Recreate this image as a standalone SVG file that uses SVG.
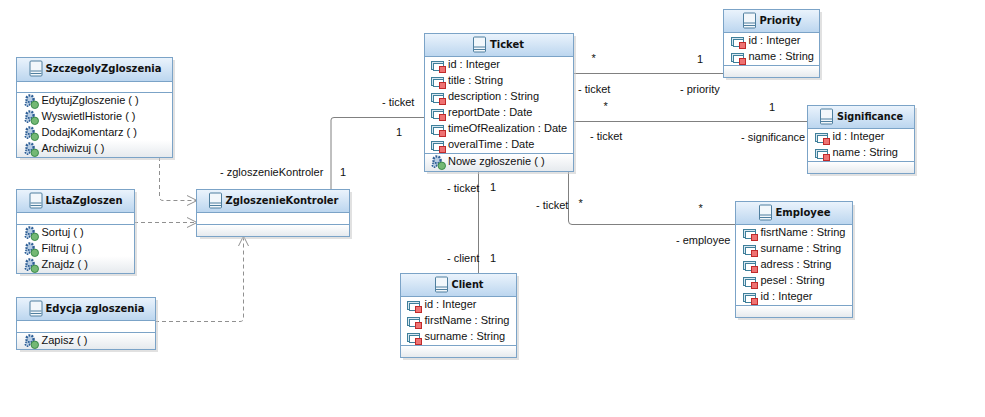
<svg xmlns="http://www.w3.org/2000/svg" width="985" height="417" viewBox="0 0 985 417">
<style>
text{font-family:"Liberation Sans",Arial,sans-serif;font-size:11px;fill:#111}
.t{font-family:"DejaVu Sans",sans-serif;font-weight:bold;font-size:10.5px}
.b{fill:#fff;stroke:#7ba3c7;stroke-width:1}
.s{fill:#c8c8c8;opacity:.55}
.d{stroke:#7ba3c7;stroke-width:1;fill:none}
.h{fill:url(#hg)}
.f{fill:url(#fg)}
.c{fill:none;stroke:#808080;stroke-width:1}
.k{fill:none;stroke:#909090;stroke-width:1;stroke-dasharray:4 3}
</style>
<defs>
<linearGradient id="hg" x1="0" y1="0" x2="0" y2="1"><stop offset="0" stop-color="#eaf3fc"/><stop offset="1" stop-color="#bcd6ef"/></linearGradient>
<linearGradient id="fg" x1="0" y1="0" x2="0" y2="1"><stop offset="0" stop-color="#fff"/><stop offset="1" stop-color="#e6eaee"/></linearGradient>
<marker id="o" markerWidth="12" markerHeight="12" refX="10" refY="6" orient="auto" markerUnits="userSpaceOnUse"><path d="M0 1L10 6L0 11" fill="none" stroke="#909090"/></marker>
<g id="ci"><rect x="0.500" y="0.500" width="12" height="15" rx="1" fill="#f2f7fb" stroke="#4f7f9f"/><path d="M1 10.500H12M1 13H12" stroke="#4f7f9f"/></g>
<g id="ai"><rect x="0.500" y="1.500" width="12" height="8" fill="#d8e8f2" stroke="#3f7f9a"/><rect x="2.500" y="3.500" width="10" height="7" fill="#fff" stroke="#3f7f9a"/><rect x="8.500" y="6.500" width="6" height="6" fill="#ee7272" stroke="#c02a2a"/></g>
<g id="oi"><circle cx="6" cy="5" r="3.600" fill="#b8cde3" stroke="#2f5f96" stroke-width="2.400" stroke-dasharray="1.800 1.200"/><circle cx="3.500" cy="10" r="2.200" fill="#b8cde3" stroke="#2f5f96" stroke-width="1.600" stroke-dasharray="1.400 1"/><circle cx="10.800" cy="10.800" r="3.700" fill="#74b874" stroke="#3a8a4a"/></g>
</defs>
<rect width="985" height="417" fill="#fff"/>
<g id="connectors">
<path class="c" d="M331 189V120Q331 117.500 334 117.500H424"/>
<path class="c" d="M573 73.500H723"/>
<path class="c" d="M573 121.500H807"/>
<path class="c" d="M478.500 171V273"/>
<path class="c" d="M568.500 171V221Q568.500 224.500 572 224.500H735"/>
<path class="k" d="M159.500 157V197Q159.500 200.500 163 200.500H197" marker-end="url(#o)"/>
<path class="k" d="M134 222.500H197" marker-end="url(#o)"/>
<path class="k" d="M155 321.500H240Q243.500 321.500 243.500 318V236" marker-end="url(#o)"/>
</g>
<g id="SzczegolyZgloszenia">
<rect class="s" x="20" y="60" width="155" height="100"/><rect class="b" x="16.500" y="57.500" width="156" height="100"/><rect class="h" x="17" y="58" width="155" height="23"/><rect class="f" x="17" y="140" width="155" height="17"/><path class="d" d="M17 81.500H172M17 92.500H172"/><rect class="d" x="16.500" y="57.500" width="156" height="100"/>
<use href="#ci" x="29.500" y="60.500"/><text class="t" x="45.500" y="72" textLength="116" lengthAdjust="spacingAndGlyphs">SzczegolyZgloszenia</text>
<use href="#oi" x="24" y="94"/><text x="41.500" y="104">EdytujZgloszenie ( )</text>
<use href="#oi" x="24" y="110"/><text x="41.500" y="120">WyswietlHistorie ( )</text>
<use href="#oi" x="24" y="126"/><text x="41.500" y="136">DodajKomentarz ( )</text>
<use href="#oi" x="24" y="142"/><text x="41.500" y="152">Archiwizuj ( )</text>
</g>
<g id="ListaZgloszen">
<rect class="s" x="20" y="192" width="117" height="84"/><rect class="b" x="16.500" y="189.500" width="118" height="84"/><rect class="h" x="17" y="190" width="117" height="22"/><rect class="f" x="17" y="256" width="117" height="17"/><path class="d" d="M17 212.500H134M17 224.500H134"/><rect class="d" x="16.500" y="189.500" width="118" height="84"/>
<use href="#ci" x="29.500" y="192.500"/><text class="t" x="45.500" y="204" textLength="77" lengthAdjust="spacingAndGlyphs">ListaZgloszen</text>
<use href="#oi" x="24" y="226"/><text x="41.500" y="236">Sortuj ( )</text>
<use href="#oi" x="24" y="242"/><text x="41.500" y="252">Filtruj ( )</text>
<use href="#oi" x="24" y="258"/><text x="41.500" y="268">Znajdz ( )</text>
</g>
<g id="EdycjaZgloszenia">
<rect class="s" x="20" y="300" width="138" height="52"/><rect class="b" x="16.500" y="297.500" width="139" height="52"/><rect class="h" x="17" y="298" width="138" height="22"/><rect class="f" x="17" y="333" width="138" height="16"/><path class="d" d="M17 320.500H155M17 332.500H155"/><rect class="d" x="16.500" y="297.500" width="139" height="52"/>
<use href="#ci" x="29.500" y="300.500"/><text class="t" x="45.500" y="312" textLength="99" lengthAdjust="spacingAndGlyphs">Edycja zgloszenia</text>
<use href="#oi" x="24" y="334"/><text x="41.500" y="344">Zapisz ( )</text>
</g>
<g id="ZgloszenieKontroler">
<rect class="s" x="200" y="192" width="152" height="47"/><rect class="b" x="196.500" y="189.500" width="153" height="47"/><rect class="h" x="197" y="190" width="152" height="22"/><rect class="f" x="197" y="225" width="152" height="11"/><path class="d" d="M197 212.500H349M197 224.500H349"/><rect class="d" x="196.500" y="189.500" width="153" height="47"/>
<use href="#ci" x="209" y="192.500"/><text class="t" x="225.500" y="204" textLength="113" lengthAdjust="spacingAndGlyphs">ZgloszenieKontroler</text>
</g>
<g id="Ticket">
<rect class="s" x="427" y="36" width="149" height="138"/><rect class="b" x="424.500" y="33.500" width="149" height="138"/><rect class="h" x="425" y="34" width="148" height="22"/><rect class="f" x="425" y="154" width="148" height="17"/><path class="d" d="M425 56.500H573M425 153.500H573"/><rect class="d" x="424.500" y="33.500" width="149" height="138"/>
<use href="#ci" x="473" y="36.500"/><text class="t" x="490" y="48" textLength="34" lengthAdjust="spacingAndGlyphs">Ticket</text>
<use href="#ai" x="431" y="60"/><text x="448" y="68">id : Integer</text>
<use href="#ai" x="431" y="76"/><text x="448" y="84">title : String</text>
<use href="#ai" x="431" y="92"/><text x="448" y="100">description : String</text>
<use href="#ai" x="431" y="108"/><text x="448" y="116">reportDate : Date</text>
<use href="#ai" x="431" y="124"/><text x="448" y="132">timeOfRealization : Date</text>
<use href="#ai" x="431" y="140"/><text x="448" y="148">overalTime : Date</text>
<use href="#oi" x="431" y="155"/><text x="448" y="165">Nowe zgłoszenie ( )</text>
</g>
<g id="Priority">
<rect class="s" x="726" y="12" width="96" height="68"/><rect class="b" x="723.500" y="9.500" width="96" height="68"/><rect class="h" x="724" y="10" width="95" height="22"/><rect class="f" x="724" y="66" width="95" height="11"/><path class="d" d="M724 32.500H819M724 65.500H819"/><rect class="d" x="723.500" y="9.500" width="96" height="68"/>
<use href="#ci" x="743" y="12.500"/><text class="t" x="759.500" y="24" textLength="42" lengthAdjust="spacingAndGlyphs">Priority</text>
<use href="#ai" x="731" y="36"/><text x="748.500" y="44">id : Integer</text>
<use href="#ai" x="731" y="52"/><text x="748.500" y="60">name : String</text>
</g>
<g id="Significance">
<rect class="s" x="810" y="108" width="107" height="68"/><rect class="b" x="807.500" y="105.500" width="107" height="68"/><rect class="h" x="808" y="106" width="106" height="22"/><rect class="f" x="808" y="162" width="106" height="11"/><path class="d" d="M808 128.500H914M808 161.500H914"/><rect class="d" x="807.500" y="105.500" width="107" height="68"/>
<use href="#ci" x="820" y="108.500"/><text class="t" x="837" y="120" textLength="66" lengthAdjust="spacingAndGlyphs">Significance</text>
<use href="#ai" x="815" y="132"/><text x="832.500" y="140">id : Integer</text>
<use href="#ai" x="815" y="148"/><text x="832.500" y="156">name : String</text>
</g>
<g id="Employee">
<rect class="s" x="738" y="205" width="117" height="115"/><rect class="b" x="735.500" y="201.500" width="117" height="116"/><rect class="h" x="736" y="202" width="116" height="22"/><rect class="f" x="736" y="306" width="116" height="11"/><path class="d" d="M736 224.500H852M736 305.500H852"/><rect class="d" x="735.500" y="201.500" width="117" height="116"/>
<use href="#ci" x="759" y="204.500"/><text class="t" x="775.500" y="216" textLength="55" lengthAdjust="spacingAndGlyphs">Employee</text>
<use href="#ai" x="743" y="228"/><text x="760.500" y="236">fisrtName : String</text>
<use href="#ai" x="743" y="244"/><text x="760.500" y="252">surname : String</text>
<use href="#ai" x="743" y="260"/><text x="760.500" y="268">adress : String</text>
<use href="#ai" x="743" y="276"/><text x="760.500" y="284">pesel : String</text>
<use href="#ai" x="743" y="292"/><text x="760.500" y="300">id : Integer</text>
</g>
<g id="Client">
<rect class="s" x="403" y="276" width="116" height="84"/><rect class="b" x="400.500" y="273.500" width="116" height="84"/><rect class="h" x="401" y="274" width="115" height="22"/><rect class="f" x="401" y="346" width="115" height="11"/><path class="d" d="M401 296.500H516M401 345.500H516"/><rect class="d" x="400.500" y="273.500" width="116" height="84"/>
<use href="#ci" x="435" y="276.500"/><text class="t" x="451.500" y="288" textLength="32" lengthAdjust="spacingAndGlyphs">Client</text>
<use href="#ai" x="407" y="300"/><text x="424.500" y="308">id : Integer</text>
<use href="#ai" x="407" y="316"/><text x="424.500" y="324">firstName : String</text>
<use href="#ai" x="407" y="332"/><text x="424.500" y="340">surname : String</text>
</g>
<g id="labels">
<text x="220" y="176">- zgloszenieKontroler</text><text x="340" y="176">1</text>
<text x="382" y="106">- ticket</text><text x="396" y="136">1</text>
<text x="591.500" y="62">*</text><text x="697" y="63">1</text>
<text x="578" y="93">- ticket</text><text x="680" y="93">- priority</text>
<text x="603.500" y="110">*</text><text x="769" y="111">1</text>
<text x="590" y="140">- ticket</text><text x="741" y="141">- significance</text>
<text x="447" y="192">- ticket</text><text x="490" y="191">1</text>
<text x="536" y="209">- ticket</text><text x="578.500" y="207">*</text>
<text x="698.500" y="212">*</text><text x="676" y="244">- employee</text>
<text x="447" y="262">- client</text><text x="490" y="262">1</text>
</g>
</svg>
